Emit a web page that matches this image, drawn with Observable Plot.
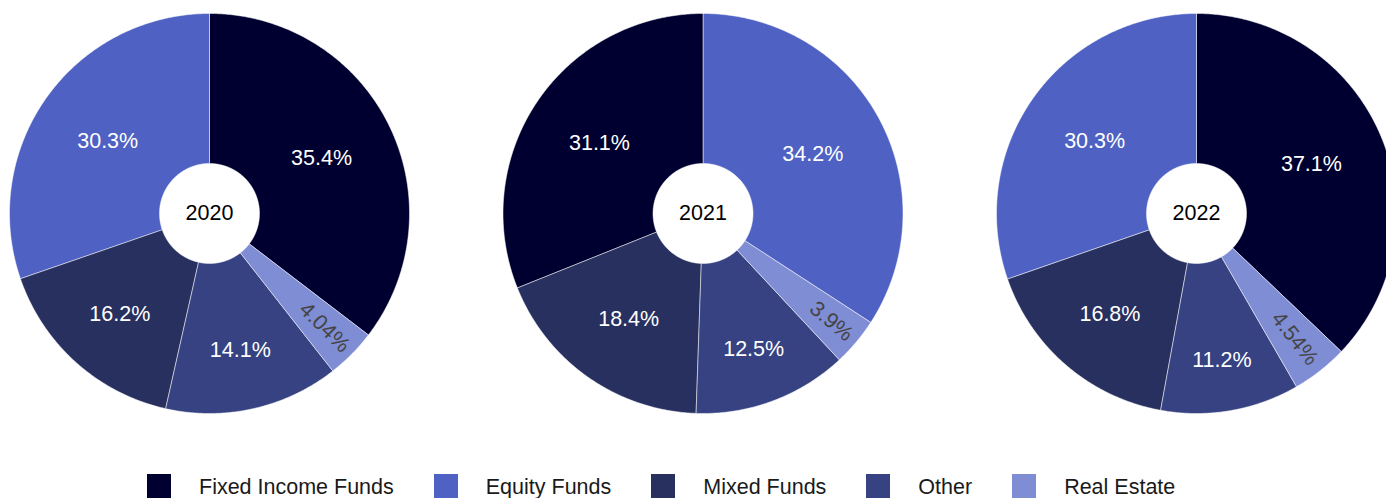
<!DOCTYPE html>
<html><head><meta charset="utf-8">
<script src="https://cdn.jsdelivr.net/npm/d3@7"></script>
<script src="https://cdn.jsdelivr.net/npm/@observablehq/plot@0.6"></script>
<style>
html,body{margin:0;padding:0;background:#fff;overflow:hidden;}
#chart svg{display:block;overflow:visible;max-width:none !important;}
.legend{display:flex;align-items:center;margin-top:47px;padding-left:147px;font-family:"Liberation Sans",Arial,sans-serif;font-size:21.5px;color:#1a1a1a;white-space:nowrap;}
.legend .item{display:flex;align-items:center;margin-right:40px;}
.legend .sw{width:24px;height:24px;margin-right:28px;flex:none;}
.legend .lab{position:relative;top:2px;}
</style></head><body>
<div id="chart"></div>
<script>
// ---- data ----
const years = ["2020", "2021", "2022"];
const categories = ["Fixed Income Funds", "Equity Funds", "Mixed Funds", "Other", "Real Estate"];
const share2020 = [35.4, 30.3, 16.2, 14.1, 4.04];
const share2021 = [31.1, 34.2, 18.4, 12.5, 3.9];
const share2022 = [37.1, 30.3, 16.8, 11.2, 4.54];
const colors = ["#000030", "#4f62c3", "#28305f", "#364282", "#7f8dd4"];

// ---- layout / style ----
const FONT = '"Liberation Sans", Arial, sans-serif';
const FS = 21.5;
const R = 200;          // pie radius in px (facet width / 2)
const HOLE = 0.25;      // hole fraction
const shares = {"2020": share2020, "2021": share2021, "2022": share2022};

const ctx = document.createElement("canvas").getContext("2d");
ctx.font = `${FS}px ${FONT}`;
const fmt = d3.format(".3~r");

function luminance(hex) {
  const c = d3.rgb(hex);
  const f = v => { v /= 255; return v <= 0.03928 ? v / 12.92 : Math.pow((v + 0.055) / 1.055, 2.4); };
  return 0.2126 * f(c.r) + 0.7152 * f(c.g) + 0.0722 * f(c.b);
}

const slicePts = [];
const labels = [];
for (const yr of years) {
  const vals = shares[yr];
  const total = d3.sum(vals);
  const order = d3.range(vals.length).sort((a, b) => vals[b] - vals[a]);
  const spans = [];
  const f0 = vals[order[0]] / total;
  spans.push([order[0], 0, f0]);
  let cur = 1;
  for (let k = 1; k < order.length; k++) {
    const f = vals[order[k]] / total;
    spans.push([order[k], cur - f, cur]);
    cur -= f;
  }
  for (const [i, a0, a1] of spans) {
    const id = yr + "-" + i;
    const n = Math.max(2, Math.ceil((a1 - a0) * 720));
    const pts = [];
    for (let s = 0; s <= n; s++) {
      const t = (a0 + (a1 - a0) * s / n) * 2 * Math.PI;
      pts.push([Math.sin(t), Math.cos(t)]);
    }
    for (let s = n; s >= 0; s--) {
      const t = (a0 + (a1 - a0) * s / n) * 2 * Math.PI;
      pts.push([HOLE * Math.sin(t), HOLE * Math.cos(t)]);
    }
    pts.push(pts[0]);
    for (const [x, y] of pts) slicePts.push({year: yr, id, category: categories[i], x, y});

    // label placement (inside text, auto orientation)
    const text = fmt(vals[i]) + "%";
    const w = ctx.measureText(text).width;
    const h = FS * 1.2;
    const half = (a1 - a0) * Math.PI;
    const mid = (a0 + a1) / 2 * 2 * Math.PI;
    const ring = 1 - HOLE;
    const rIns = Math.min(Math.sin(half) / (1 + Math.sin(half)), ring / 2);
    const scaleH = rIns * R * 2 / Math.hypot(w, h);
    let rc, rot = 0, scale = 1;
    if (scaleH >= 1) {
      rc = 1 - rIns;
    } else {
      const rr = R - 6;
      const a = w / h;
      const q = a + 1 / (2 * Math.tan(half));
      const s = rr * Math.min(1 / (Math.sqrt(q * q + 0.5) + q), ring / (Math.sqrt(a * a + ring / 2) + a));
      scale = Math.min(1, Math.max(scaleH, 2 * s / h));
      const b = s / rr;
      rc = Math.cos(b) - a * b;
      rot = mid * 180 / Math.PI - 90;
      while (rot > 90) rot -= 180;
      while (rot <= -90) rot += 180;
    }
    labels.push({
      year: yr, text, rot, size: FS * scale,
      x: rc * Math.sin(mid), y: rc * Math.cos(mid),
      dark: luminance(colors[i]) > 0.179
    });
  }
}
const centers = years.map(year => ({year, x: 0, y: 0}));

const fxPad = 93.5 / 493.5;
const plot = Plot.plot({
  width: 1396,
  height: 426,
  marginLeft: 9, marginRight: 0, marginTop: 13, marginBottom: 13,
  style: {fontFamily: FONT, background: "transparent", maxWidth: "none"},
  fx: {domain: years, axis: null, paddingInner: fxPad, paddingOuter: 0, round: false, label: null},
  x: {domain: [-1, 1], axis: null},
  y: {domain: [-1, 1], axis: null},
  color: {domain: categories, range: colors},
  marks: [
    Plot.line(slicePts, {x: "x", y: "y", z: "id", fx: "year", fill: "category", stroke: "white", strokeWidth: 0.5, curve: "linear"}),
    Plot.text(labels.filter(d => !d.dark), {x: "x", y: "y", fx: "year", text: "text", rotate: "rot", fontSize: "size", fill: "white", textAnchor: "middle", lineAnchor: "middle"}),
    Plot.text(labels.filter(d => d.dark), {x: "x", y: "y", fx: "year", text: "text", rotate: "rot", fontSize: "size", fill: "#444", textAnchor: "middle", lineAnchor: "middle"}),
    Plot.text(centers, {x: "x", y: "y", fx: "year", text: "year", fontSize: FS, fill: "#000", textAnchor: "middle", lineAnchor: "middle"})
  ]
});
plot.style.maxWidth = "none";
document.getElementById("chart").appendChild(plot);

const legend = document.createElement("div");
legend.className = "legend";
categories.forEach((c, i) => {
  const item = document.createElement("div");
  item.className = "item";
  const sw = document.createElement("span");
  sw.className = "sw";
  sw.style.background = colors[i];
  const lab = document.createElement("span");
  lab.className = "lab";
  lab.textContent = c;
  item.appendChild(sw); item.appendChild(lab);
  legend.appendChild(item);
});
document.getElementById("chart").appendChild(legend);
</script>
</body></html>
